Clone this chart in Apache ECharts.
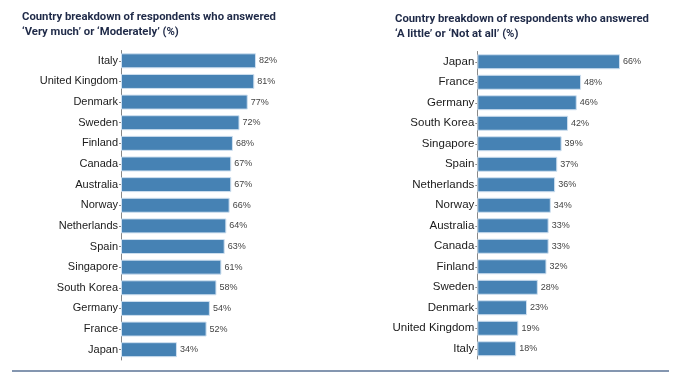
<!DOCTYPE html>
<html><head><meta charset="utf-8">
<script src="https://cdn.jsdelivr.net/npm/echarts@6/dist/echarts.min.js"></script>
<style>html,body{margin:0;padding:0;background:#fff}#c{width:678px;height:380px}</style>
</head><body><div id="c"></div>
<script>
const leftTitle = "Country breakdown of respondents who answered\n‘Very much’ or ‘Moderately’ (%)";
const rightTitle = "Country breakdown of respondents who answered\n‘A little’ or ‘Not at all’ (%)";
const leftCategories = ["Italy","United Kingdom","Denmark","Sweden","Finland","Canada","Australia","Norway","Netherlands","Spain","Singapore","South Korea","Germany","France","Japan"];
const leftValues = [82,81,77,72,68,67,67,66,64,63,61,58,54,52,34];
const rightCategories = ["Japan","France","Germany","South Korea","Singapore","Spain","Netherlands","Norway","Australia","Canada","Finland","Sweden","Denmark","United Kingdom","Italy"];
const rightValues = [66,48,46,42,39,37,36,34,33,33,32,28,23,19,18];

const chart = echarts.init(document.getElementById('c'), null, {renderer:'canvas'});
const titleStyle = {fontFamily:'Roboto', fontSize:11.3, fontWeight:'bold', color:'#1f2a48', lineHeight:15};
const barStyle = {color:'#4682b4', borderColor:'#cfe0f0', borderWidth:1};
function yAx(idx, cats, fs){
  return {type:'category', gridIndex:idx, data:cats, inverse:true,
    axisLine:{show:true, lineStyle:{color:'#888', width:1}},
    axisTick:{show:true, alignWithLabel:true, length:2, lineStyle:{color:'#888'}},
    axisLabel:{fontFamily:'Liberation Sans', fontSize:fs, color:'#1a1a1a', margin:3},
    splitLine:{show:false}};
}
function xAx(idx, mx){
  return {type:'value', gridIndex:idx, min:0, max:mx, show:false, splitLine:{show:false}};
}
function lbl(){
  return {show:true, position:'right', distance:3, formatter:'{c}%', fontFamily:'Liberation Sans', fontSize:9, color:'#444'};
}
chart.setOption({
  animation:false,
  title:[
    {text:leftTitle, left:17, top:4.5, textStyle:titleStyle},
    {text:rightTitle, left:390, top:6.5, textStyle:titleStyle}
  ],
  grid:[
    {left:121, top:50.5, width:164.6, height:309.5, containLabel:false, outerBoundsMode:'none'},
    {left:477.3, top:51.5, width:172.96, height:307.5, containLabel:false, outerBoundsMode:'none'}
  ],
  xAxis:[xAx(0, 100), xAx(1, 80)],
  yAxis:[yAx(0, leftCategories, 11), yAx(1, rightCategories, 11.5)],
  series:[
    {type:'bar', xAxisIndex:0, yAxisIndex:0, data:leftValues, barWidth:15, itemStyle:barStyle, label:lbl()},
    {type:'bar', xAxisIndex:1, yAxisIndex:1, data:rightValues, barWidth:15, itemStyle:barStyle, label:lbl()}
  ],
  graphic:[{type:'line', shape:{x1:12, y1:371, x2:669, y2:371}, style:{stroke:'#8496b0', lineWidth:2}}]
});
</script></body></html>
